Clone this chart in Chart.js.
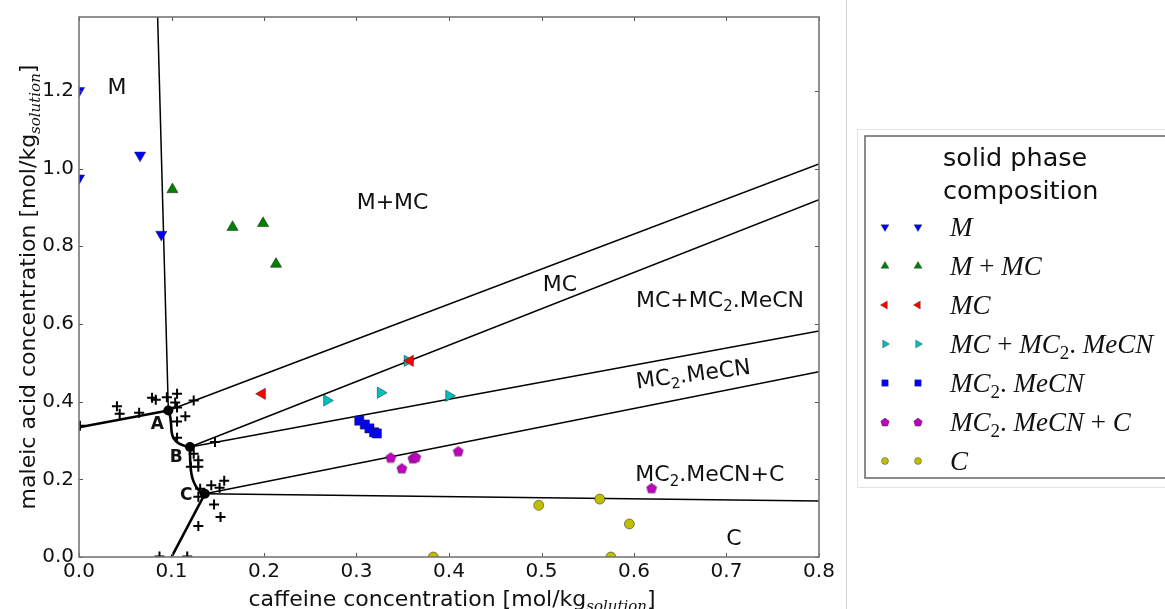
<!DOCTYPE html>
<html>
<head>
<meta charset="utf-8">
<script src="https://cdn.jsdelivr.net/npm/chart.js@4.4.0/dist/chart.umd.min.js"></script>
<style>
  html, body { margin: 0; padding: 0; background: #fff; }
  #c { display: block; }
</style>
</head>
<body>
<canvas id="c" width="1165" height="609"></canvas>
<script>
// axes
const xTicks = [0, 0.1, 0.2, 0.3, 0.4, 0.5, 0.6, 0.7, 0.8];
const yTicks = [0, 0.2, 0.4, 0.6, 0.8, 1.0, 1.2];
const xMax = 0.8, yMax = 1.39;

// solid phase composition found for each sample, [caffeine, maleic acid] mol/kg
const phases = ['M', 'M+MC', 'MC', 'MC+MC2.MeCN', 'MC2.MeCN', 'MC2.MeCN+C', 'C'];
const solidM      = [[0, 1.2], [0, 0.975], [0.066, 1.034], [0.089, 0.83]];
const solidMMC    = [[0.101, 0.946], [0.166, 0.849], [0.199, 0.859], [0.213, 0.754]];
const solidMC     = [[0.198, 0.42], [0.358, 0.505]];
const solidMCMeCN = [[0.268, 0.403], [0.326, 0.423], [0.4, 0.415], [0.355, 0.505]];
const solidMeCN   = [[0.303, 0.351], [0.309, 0.341], [0.314, 0.331], [0.319, 0.321], [0.322, 0.318]];
const solidMeCNC  = [[0.337, 0.256], [0.349, 0.228], [0.361, 0.254], [0.364, 0.257], [0.41, 0.272], [0.619, 0.177]];
const solidC      = [[0.497, 0.133], [0.563, 0.149], [0.595, 0.085], [0.383, 0], [0.575, 0]];

// measured solubilities
const solubility = [
  [0.001, 0.338], [0.041, 0.388], [0.044, 0.369], [0.065, 0.371], [0.079, 0.41], [0.083, 0.405],
  [0.095, 0.411], [0.106, 0.42], [0.104, 0.398], [0.106, 0.385], [0.124, 0.403], [0.115, 0.362],
  [0.106, 0.349], [0.106, 0.307], [0.147, 0.296], [0.124, 0.266], [0.129, 0.249], [0.129, 0.232],
  [0.121, 0.232], [0.143, 0.185], [0.152, 0.178], [0.157, 0.196], [0.131, 0.176], [0.129, 0.155],
  [0.146, 0.135], [0.153, 0.103], [0.129, 0.08], [0.087, 0.001], [0.117, 0.001]
];

// invariant points and phase boundaries
const invariantNames = ['A', 'B', 'C'];
const invariantPts = [[0.0966, 0.377], [0.12, 0.283], [0.136, 0.163]];
const curveM = [[0, 0.334], [0.0966, 0.377]];
const curveABC = [
  [0.0966, 0.377], [0.0984, 0.364], [0.0995, 0.343], [0.1002, 0.321], [0.102, 0.307],
  [0.1074, 0.293], [0.1146, 0.286], [0.12, 0.283], [0.12, 0.266], [0.1204, 0.24],
  [0.1215, 0.215], [0.1236, 0.196], [0.1272, 0.179], [0.1319, 0.167], [0.1362, 0.163]
];
const curveC = [[0.1362, 0.163], [0.1, 0]];
const boundM = [[0.0966, 0.377], [0.085, 1.39]];
const tieLines = [
  [[0.0966, 0.377], [0.8, 1.012]],
  [[0.12, 0.283], [0.8, 0.92]],
  [[0.12, 0.283], [0.8, 0.582]],
  [[0.1362, 0.163], [0.8, 0.477]],
  [[0.1362, 0.163], [0.8, 0.144]]
];

const toXY = arr => arr.map(([x, y]) => ({ x, y }));

function pentagon(size, fill, stroke) {
  const c = document.createElement('canvas');
  c.width = c.height = size;
  const g = c.getContext('2d');
  const r = size / 2 - 0.6;
  g.beginPath();
  for (let i = 0; i < 5; i++) {
    const a = -Math.PI / 2 + i * 2 * Math.PI / 5;
    const px = size / 2 + r * Math.cos(a), py = size / 2 + 0.5 + r * Math.sin(a);
    i ? g.lineTo(px, py) : g.moveTo(px, py);
  }
  g.closePath();
  g.fillStyle = fill; g.fill();
  g.strokeStyle = stroke; g.lineWidth = 0.5; g.stroke();
  return c;
}

const markerStyles = [
  { pointStyle: 'triangle', rotation: 180, color: '#0000ff', radius: 6.5 },
  { pointStyle: 'triangle', rotation: 0,   color: '#007f00', radius: 6.5 },
  { pointStyle: 'triangle', rotation: 270, color: '#ff0000', radius: 6.5 },
  { pointStyle: 'triangle', rotation: 90,  color: '#00bfbf', radius: 6.5 },
  { pointStyle: 'rect',     rotation: 0,   color: '#0000ff', radius: 6.5 },
  { pointStyle: 'pentagon', rotation: 0,   color: '#bf00bf', radius: 5.5 },
  { pointStyle: 'circle',   rotation: 0,   color: '#bfbf00', radius: 5 }
];
const solidSets = [solidM, solidMMC, solidMC, solidMCMeCN, solidMeCN, solidMeCNC, solidC];

const datasets = solidSets.map((pts, i) => {
  const s = markerStyles[i];
  return {
    label: phases[i],
    data: toXY(pts),
    pointStyle: s.pointStyle === 'pentagon' ? pentagon(12, s.color, '#333') : s.pointStyle,
    rotation: s.rotation,
    pointRadius: s.radius,
    backgroundColor: s.color,
    borderColor: '#222',
    borderWidth: 0.5,
    clip: 0,
    order: 0
  };
});

datasets.push({
  label: 'solubility',
  data: toXY(solubility),
  pointStyle: 'cross', pointRadius: 5, borderColor: '#000', borderWidth: 2,
  clip: 0, order: 0
});
datasets.push({
  label: 'invariant',
  data: toXY(invariantPts),
  pointStyle: 'circle', pointRadius: 5, backgroundColor: '#000', borderColor: '#000', borderWidth: 0,
  clip: 0, order: 0
});

const lineSet = (pts, w, tension) => ({
  data: toXY(pts), showLine: true, pointRadius: 0, borderColor: '#000',
  borderWidth: w, tension: tension || 0, clip: 0, order: 1
});
datasets.push(lineSet(curveM, 2.6));
datasets.push(lineSet(curveABC, 2.6, 0.35));
datasets.push(lineSet(curveC, 2.6));
datasets.push(lineSet(boundM, 1.5));
tieLines.forEach(t => datasets.push(lineSet(t, 1.5)));

// mixed text: subscript digits, optional math spacing and italics
function segs(str, math) {
  return [...str].map(ch => {
    if (/[0-9]/.test(ch)) return { t: ch, sub: true };
    if (ch === '+') return { t: math ? ' + ' : '+' };
    if (ch === '.') return { t: math ? '. ' : '.' };
    return { t: ch, it: math };
  });
}
function drawRich(ctx, parts, x, y, size, family, align, subFamily) {
  const fontOf = p => (p.it ? 'italic ' : '') + Math.round(p.sub ? size * 0.7 : size) + 'px ' +
    (p.sub && subFamily ? subFamily : family);
  let w = 0;
  parts.forEach(p => { ctx.font = fontOf(p); p.w = ctx.measureText(p.t).width; w += p.w; });
  let cx = align === 'center' ? x - w / 2 : x;
  ctx.textAlign = 'left';
  ctx.textBaseline = 'alphabetic';
  parts.forEach(p => {
    ctx.font = fontOf(p);
    ctx.fillText(p.t, cx, y + (p.sub ? size * 0.22 : 0));
    cx += p.w;
  });
}

const regionLabels = [
  { text: 'M', x: 0.041, y: 1.21 },
  { text: 'M+MC', x: 0.339, y: 0.915 },
  { text: 'MC', x: 0.52, y: 0.705 },
  { text: 'MC+MC2.MeCN', x: 0.693, y: 0.664 },
  { text: 'MC2.MeCN', x: 0.664, y: 0.472, rot: -7.5 },
  { text: 'MC2.MeCN+C', x: 0.682, y: 0.215 },
  { text: 'C', x: 0.708, y: 0.049 }
];
const pointLabelOffsets = [[-0.012, -0.036], [-0.015, -0.027], [-0.02, -0.004]];

const decor = {
  id: 'decor',
  beforeDraw(chart) {
    const { ctx, width, height } = chart;
    ctx.save();
    ctx.fillStyle = '#fff';
    ctx.fillRect(0, 0, width, height);
    ctx.strokeStyle = '#d4d4d4';
    ctx.lineWidth = 1;
    ctx.beginPath(); ctx.moveTo(846.5, 0); ctx.lineTo(846.5, height); ctx.stroke();
    ctx.restore();
  },
  afterDatasetsDraw(chart) {
    const { ctx, chartArea: a, scales: { x, y } } = chart;
    ctx.save();
    // inward ticks
    ctx.strokeStyle = '#555';
    ctx.lineWidth = 1;
    ctx.beginPath();
    xTicks.forEach(v => {
      const px = Math.round(x.getPixelForValue(v)) + 0.5;
      ctx.moveTo(px, a.bottom); ctx.lineTo(px, a.bottom - 4);
      ctx.moveTo(px, a.top); ctx.lineTo(px, a.top + 4);
    });
    yTicks.forEach(v => {
      const py = Math.round(y.getPixelForValue(v)) + 0.5;
      ctx.moveTo(a.left, py); ctx.lineTo(a.left + 4, py);
      ctx.moveTo(a.right, py); ctx.lineTo(a.right - 4, py);
    });
    ctx.stroke();
    // frame
    ctx.strokeStyle = '#777';
    ctx.lineWidth = 1.6;
    ctx.strokeRect(a.left, a.top, a.right - a.left, a.bottom - a.top);

    // region labels
    ctx.fillStyle = '#111';
    regionLabels.forEach(l => {
      ctx.save();
      ctx.translate(x.getPixelForValue(l.x), y.getPixelForValue(l.y));
      if (l.rot) ctx.rotate(l.rot * Math.PI / 180);
      drawRich(ctx, segs(l.text, false), 0, 7.5, 21.5, '"DejaVu Sans"', 'center');
      ctx.restore();
    });
    ctx.font = 'bold 17px "DejaVu Sans"';
    ctx.textAlign = 'center';
    ctx.textBaseline = 'middle';
    invariantNames.forEach((n, i) => {
      const [vx, vy] = invariantPts[i];
      const [dx, dy] = pointLabelOffsets[i];
      ctx.fillText(n, x.getPixelForValue(vx + dx), y.getPixelForValue(vy + dy));
    });

    // axis titles
    ctx.fillStyle = '#111';
    const xt = [{ t: 'caffeine concentration [mol/kg' }, { t: 'solution', sub: true, it: true }, { t: ']' }];
    drawRich(ctx, xt, 452, 606, 22, '"DejaVu Sans"', 'center', '"DejaVu Serif"');
    ctx.save();
    ctx.translate(35, (a.top + a.bottom) / 2);
    ctx.rotate(-Math.PI / 2);
    const yt = [{ t: 'maleic acid concentration [mol/kg' }, { t: 'solution', sub: true, it: true }, { t: ']' }];
    drawRich(ctx, yt, 0, 0, 22, '"DejaVu Sans"', 'center', '"DejaVu Serif"');
    ctx.restore();
    ctx.restore();
  },
  afterDraw(chart) {
    const { ctx } = chart;
    ctx.save();
    // legend frame
    ctx.strokeStyle = '#e4e4e4';
    ctx.lineWidth = 1;
    ctx.strokeRect(857.5, 129.5, 330, 358);
    ctx.strokeStyle = '#666';
    ctx.lineWidth = 1.5;
    ctx.strokeRect(865, 136, 320, 342);
    // title
    ctx.fillStyle = '#111';
    ctx.font = '25.5px "DejaVu Sans"';
    ctx.textAlign = 'left';
    ctx.textBaseline = 'middle';
    ctx.fillText('solid phase', 943, 159);
    ctx.fillText('composition', 943, 192);
    // entries
    phases.forEach((name, i) => {
      const s = markerStyles[i];
      const ry = 227 + i * 39;
      [885, 918].forEach(mx => {
        ctx.fillStyle = s.color;
        ctx.strokeStyle = '#333';
        ctx.lineWidth = 0.4;
        if (s.pointStyle === 'pentagon') {
          const img = pentagon(10, s.color, '#333');
          ctx.drawImage(img, mx - 5, ry - 5);
        } else {
          Chart.helpers.drawPoint(ctx, {
            pointStyle: s.pointStyle, rotation: s.rotation,
            radius: s.radius * 0.7, borderWidth: 0.4
          }, mx, ry);
        }
      });
      ctx.fillStyle = '#111';
      drawRich(ctx, segs(name, true), 950, ry + 9, 27, '"Liberation Serif"', 'left');
    });
    ctx.restore();
  }
};

new Chart(document.getElementById('c'), {
  type: 'scatter',
  data: { datasets },
  options: {
    responsive: false,
    devicePixelRatio: 1,
    animation: false,
    events: [],
    layout: { padding: { left: 0, top: 15, right: 346, bottom: 0 } },
    plugins: { legend: { display: false }, tooltip: { enabled: false } },
    scales: {
      x: {
        type: 'linear', min: 0, max: xMax,
        afterBuildTicks: s => { s.ticks = xTicks.map(v => ({ value: v })); },
        afterFit: s => { s.height = 52; },
        grid: { display: false, drawTicks: false },
        border: { display: false },
        ticks: {
          padding: 3, maxRotation: 0, color: '#111',
          font: { family: 'DejaVu Sans', size: 20 },
          callback: v => v.toFixed(1)
        }
      },
      y: {
        type: 'linear', min: 0, max: yMax,
        afterBuildTicks: s => { s.ticks = yTicks.map(v => ({ value: v })); },
        afterFit: s => { s.width = 79; },
        grid: { display: false, drawTicks: false },
        border: { display: false },
        ticks: {
          padding: 5, color: '#111',
          font: { family: 'DejaVu Sans', size: 20 },
          callback: v => v.toFixed(1)
        }
      }
    }
  },
  plugins: [decor]
});
</script>
</body>
</html>
